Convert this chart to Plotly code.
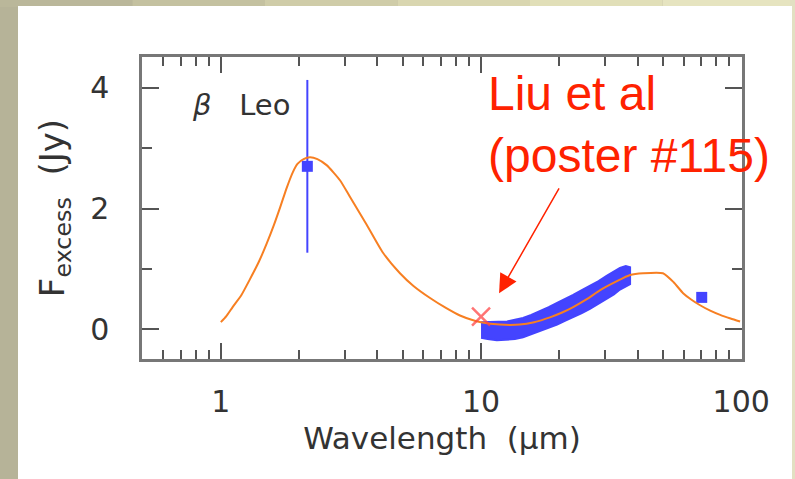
import plotly.graph_objects as go
import numpy as np

# ---------------- data ----------------
# Photometric point (K band) with error bar
phot_lam = [2.15]
phot_flux = [2.70]
phot_err = [1.43]

# Far-IR photometric point
fir_lam = [70.5]
fir_flux = [0.53]

# Mid-IR spectrum (band: centre value and half width)
spec_lam = [10.0, 10.6, 11.5, 12.6, 13.5, 14.5, 15.6, 16.8, 18.2, 19.6, 21.0, 22.6, 24.4, 26.2, 28.3, 30.5, 32.4, 34.2, 36.0, 37.4]
spec_flux = [-0.01, -0.02, -0.03, -0.02, 0.00, 0.03, 0.08, 0.14, 0.20, 0.26, 0.32, 0.39, 0.46, 0.53, 0.61, 0.70, 0.77, 0.84, 0.88, 0.89]
spec_err = [0.13, 0.14, 0.15, 0.15, 0.16, 0.16, 0.16, 0.16, 0.17, 0.18, 0.18, 0.18, 0.19, 0.19, 0.19, 0.19, 0.19, 0.18, 0.17, 0.14]

# Previous measurement (red cross)
prev_lam = [10.0]
prev_flux = [0.21]

# Model curve
model_lam = [1.0, 1.05, 1.11, 1.2, 1.29, 1.4, 1.5, 1.6, 1.69, 1.79, 1.89, 1.97, 2.08, 2.2, 2.35,
             2.55, 2.87, 3.13, 3.64, 4.2, 4.88, 5.5, 6.37, 7.3, 8.3, 9.2, 10.0, 11.8, 14.1, 16.0,
             18.4, 20.5, 22.6, 25.5, 28.7, 33.0, 37.4, 42.0, 50.0, 55.0, 59.8, 64.0, 69.5, 76.0,
             83.0, 91.0, 99.0]
model_flux = [0.12, 0.22, 0.37, 0.57, 0.82, 1.12, 1.42, 1.73, 2.02, 2.34, 2.60, 2.74, 2.82, 2.85,
              2.82, 2.72, 2.47, 2.20, 1.73, 1.27, 0.93, 0.72, 0.52, 0.36, 0.23, 0.16, 0.12, 0.08,
              0.08, 0.12, 0.20, 0.28, 0.37, 0.50, 0.65, 0.79, 0.90, 0.93, 0.93, 0.78, 0.60, 0.50,
              0.40, 0.31, 0.24, 0.18, 0.13]

x_tickvals = [1, 10, 100]
x_ticktext = ["1", "10", "100"]
x_minor = [0.6, 0.7, 0.8, 0.9, 2, 3, 4, 5, 6, 7, 8, 9, 20, 30, 40, 50, 60, 70, 80, 90]
y_tickvals = [0, 2, 4]
y_ticktext = ["0", "2", "4"]
y_minor = [1, 3]

star_label = "<i>β</i>   Leo"
note_label = "Liu et al<br>(poster #115)"
x_title = "Wavelength  (μm)"
y_title = "F<sub>excess</sub>  (Jy)"

# ---------------- figure ----------------
BLUE = "#4444ff"
ORANGE = "#f77f22"
RED = "#ff2200"
TXT = "#333333"

fig = go.Figure()

spec_up = [f + e for f, e in zip(spec_flux, spec_err)]
spec_lo = [f - e for f, e in zip(spec_flux, spec_err)]
fig.add_trace(go.Scatter(
    x=spec_lam + spec_lam[::-1], y=spec_up + spec_lo[::-1],
    fill="toself", fillcolor=BLUE, mode="lines",
    line=dict(color=BLUE, width=2), hoverinfo="skip", showlegend=False))

fig.add_trace(go.Scatter(
    x=phot_lam, y=phot_flux, mode="markers",
    marker=dict(symbol="square", size=11, color=BLUE),
    error_y=dict(type="data", array=phot_err, color=BLUE, thickness=2, width=0),
    showlegend=False))

fig.add_trace(go.Scatter(
    x=fir_lam, y=fir_flux, mode="markers",
    marker=dict(symbol="square", size=11, color=BLUE), showlegend=False))

fig.add_trace(go.Scatter(
    x=model_lam, y=model_flux, mode="lines",
    line=dict(color=ORANGE, width=2, shape="spline", smoothing=0.6),
    showlegend=False))

fig.add_trace(go.Scatter(
    x=prev_lam, y=prev_flux, mode="markers",
    marker=dict(symbol="x-thin", size=18,
                line=dict(width=2.5, color="rgba(255,70,70,0.75)")),
    showlegend=False))

# ---------------- annotations ----------------
fig.add_annotation(x=np.log10(0.76), y=3.71, xref="x", yref="y", text=star_label,
                   showarrow=False, xanchor="left", yanchor="middle",
                   font=dict(family="DejaVu Sans", size=29, color=TXT))
fig.add_annotation(x=1.020, y=3.40, xref="x", yref="y", text=note_label,
                   showarrow=False, xanchor="left", yanchor="middle", align="left",
                   font=dict(family="Liberation Sans", size=48, color=RED))
fig.add_annotation(x=np.log10(11.73), y=0.60, xref="x", yref="y", text=" ",
                   showarrow=True, ax=63, ay=-110, arrowhead=2, arrowsize=2.5,
                   arrowwidth=1.5, arrowcolor=RED, standoff=0)

# ---------------- background (slide) ----------------
L, R, T, B = 142, 53, 57, 120
W, H = 795, 479
pw, ph = W - L - R, H - T - B
def px(xp):
    return (xp - L) / pw
def py(yp):
    return (H - B - yp) / ph

shapes = [
    dict(type="rect", xref="paper", yref="paper", x0=px(0), x1=px(W), y0=py(H), y1=py(0),
         fillcolor="#b6b398", line=dict(width=0), layer="below"),
]
top_cols = ["#bab79a", "#c4c1a0", "#cfcca8", "#d9d6b0", "#e1dfb8", "#e6e4c0"]
seg = W / len(top_cols)
for i, c in enumerate(top_cols):
    shapes.append(dict(type="rect", xref="paper", yref="paper",
                       x0=px(i * seg), x1=px((i + 1) * seg), y0=py(7), y1=py(0),
                       fillcolor=c, line=dict(width=0), layer="below"))
shapes.append(dict(type="rect", xref="paper", yref="paper", x0=px(790), x1=px(W),
                   y0=py(H), y1=py(0), fillcolor="#e2e0c2", line=dict(width=0), layer="below"))
shapes.append(dict(type="rect", xref="paper", yref="paper", x0=px(18), x1=px(792),
                   y0=py(H), y1=py(6), fillcolor="white", line=dict(width=0), layer="below"))

axis_common = dict(showgrid=False, zeroline=False, showline=True, linecolor="#777777",
                   linewidth=2.5, mirror="ticks", ticks="inside", tickcolor="#555555",
                   tickwidth=2,
                   tickfont=dict(family="DejaVu Sans", size=30, color=TXT))

fig.update_layout(
    width=W, height=H,
    margin=dict(l=L, r=R, t=T, b=B, pad=0),
    paper_bgcolor="#b6b398", plot_bgcolor="white",
    shapes=shapes,
    xaxis=dict(type="log", range=[-0.303, 2.003],
               tickvals=x_tickvals, ticktext=x_ticktext, ticklen=16,
               ticklabelstandoff=14,
               minor=dict(tickvals=x_minor, ticks="inside", ticklen=9, tickwidth=2,
                          tickcolor="#555555"),
               title=dict(text=x_title, standoff=10,
                          font=dict(family="DejaVu Sans", size=31, color=TXT)),
               **axis_common),
    yaxis=dict(range=[-0.49, 4.51],
               tickvals=y_tickvals, ticktext=y_ticktext, ticklen=17,
               ticklabelstandoff=24,
               minor=dict(tickvals=y_minor, ticks="inside", ticklen=10, tickwidth=2,
                          tickcolor="#555555"),
               title=dict(text=y_title, standoff=16,
                          font=dict(family="DejaVu Sans", size=34, color=TXT)),
               **axis_common),
)

fig.write_html("out.html")
